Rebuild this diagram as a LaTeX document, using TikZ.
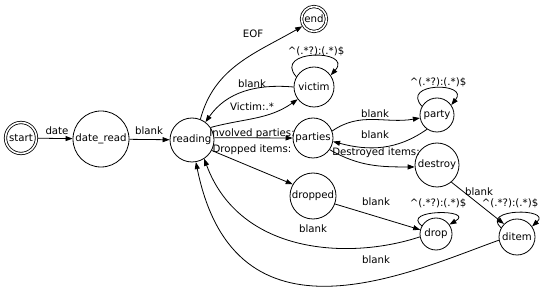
\documentclass[tikz,border=0pt]{standalone}
\usepackage{fontspec}
\setmainfont{DejaVu Sans}
\usetikzlibrary{arrows.meta}
\tikzset{
  st/.style={circle,draw,line width=0.8pt,inner sep=0pt,minimum size=#1,font=\fontsize{10.2}{12}\selectfont},
  acc/.style={st=#1,double,double distance=1.6pt,outer sep=1.4pt},
  lbl/.style={inner sep=0pt,font=\fontsize{10.2}{12}\selectfont},
  arr/.style={line width=0.8pt,-{Triangle[length=7pt,width=5pt]}},
}
\begin{document}
\begin{tikzpicture}[x=1pt,y=1pt]
\useasboundingbox (0,0) rectangle (540,305);
% states
\node[acc=31] (start) at (21,167) {start};
\node[st=56] (date_read) at (101,166) {date\_read};
\node[st=44] (reading) at (192,165) {reading};
\node[acc=25] (end) at (314,286) {end};
\node[st=40] (victim) at (314,218) {victim};
\node[st=40] (parties) at (313,167) {parties};
\node[st=34] (party) at (437,190) {party};
\node[st=44] (destroy) at (437,140) {destroy};
\node[st=46] (dropped) at (313,109) {dropped};
\node[st=32] (drop) at (436,71) {drop};
\node[st=36] (ditem) at (517,68) {ditem};
% labels
\node[lbl] (l1) at (57,174) {date};
\node[lbl] (l2) at (149,174) {blank};
\node[lbl] (l3) at (253,271) {EOF};
\node[lbl] (l4) at (316,254) {\^{}(.*?):(.*)\$};
\node[lbl] (l5) at (252,221) {blank};
\node[lbl] (l6) at (252,198) {Victim:.*};
\node[lbl] (l7) at (252,171) {Involved parties:};
\node[lbl] (l8) at (252,155) {Dropped items:};
\node[lbl] (l9) at (375,191) {blank};
\node[lbl] (l10) at (375,170) {blank};
\node[lbl] (l11) at (376,152) {Destroyed items:};
\node[lbl] (l12) at (438,223) {\^{}(.*?):(.*)\$};
\node[lbl] (l13) at (479,113) {blank};
\node[lbl] (l14) at (438,102) {\^{}(.*?):(.*)\$};
\node[lbl] (l15) at (510,102) {\^{}(.*?):(.*)\$};
\node[lbl] (l16) at (376,103) {blank};
\node[lbl] (l17) at (313,76) {blank};
\node[lbl] (l18) at (376,45) {blank};
% edges
\draw[arr] (start) -- (date_read);
\draw[arr] (date_read) -- (reading);
\draw[arr] (reading.68) to[out=75,in=210] (end.212);
\draw[arr] (victim.180) to[out=175,in=55] (reading.53);
\draw[arr] (reading.34) to[out=15,in=215] (victim.217);
\draw[arr] (reading.6) -- (parties.180);
\draw[arr] (reading.-28) -- (dropped.150);
\draw[arr] (parties.20) to[out=35,in=190] (party.190);
\draw[arr] (party.235) to[out=215,in=345] (parties.-10);
\draw[arr] (parties.-35) to[out=-30,in=180] (destroy.185);
\draw[arr] (destroy.-50) -- (ditem.135);
\draw[arr] (dropped.-20) -- (drop.165);
\draw[arr] (drop.190) .. controls (350,45) and (240,50) .. (reading.-57);
\draw[arr] (ditem.190) .. controls (410,33) and (235,-50) .. (reading.-80);
% self loops
\draw[arr] (victim.150) .. controls (272,256) and (354,256) .. (victim.35);
\draw[arr] (party.150) .. controls (400,223) and (470,223) .. (party.35);
\draw[arr] (drop.150) .. controls (400,96) and (476,96) .. (drop.35);
\draw[arr] (ditem.150) .. controls (480,97) and (552,97) .. (ditem.35);
\end{tikzpicture}
\end{document}
